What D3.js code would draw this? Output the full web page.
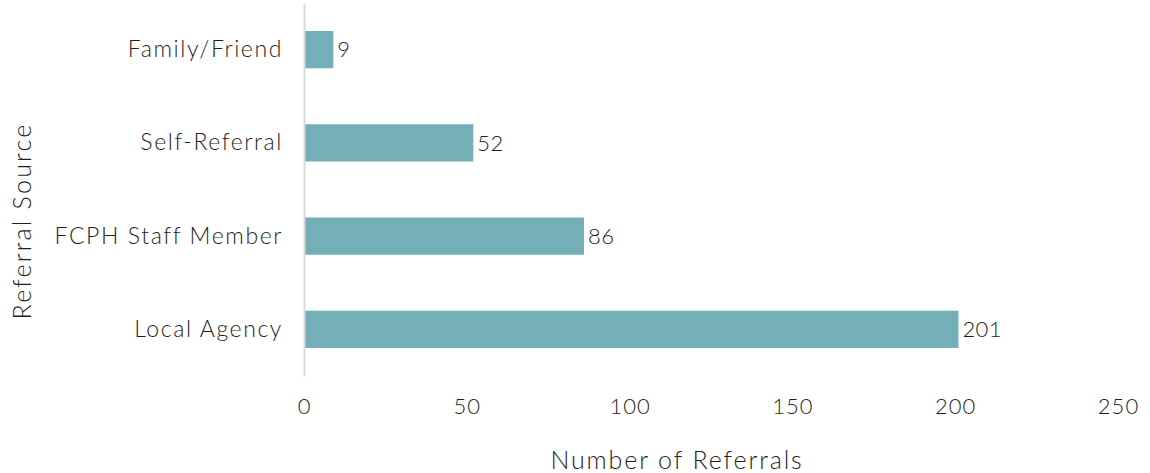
<!DOCTYPE html>
<html>
<head>
<meta charset="utf-8">
<script src="https://cdn.jsdelivr.net/npm/d3@7"></script>
<style>
  body { margin: 0; background: #fff; }
  text { font-family: "Century Gothic", "URW Gothic", "Lato", sans-serif; font-weight: 300; fill: #1f1f1f; }
</style>
</head>
<body>
<svg id="chart" width="1150" height="473"></svg>
<script>
// data
const categories = ["Family/Friend", "Self-Referral", "FCPH Staff Member", "Local Agency"];
const referrals = [9, 52, 86, 201];
const xTicks = [0, 50, 100, 150, 200, 250];

const svg = d3.select("#chart");
const margin = { top: 3, right: 32, bottom: 97, left: 304 };
const width = 1150 - margin.left - margin.right;
const height = 473 - margin.top - margin.bottom;

const chart = svg.append("g")
  .attr("transform", `translate(${margin.left},${margin.top})`);

const x = d3.scaleLinear().domain([0, 250]).range([0, width]);
const y = d3.scaleBand().domain(categories).range([0, height]).paddingInner(0.6).paddingOuter(0.3);

// bars
chart.selectAll("rect")
  .data(categories)
  .join("rect")
  .attr("x", 0)
  .attr("y", d => y(d))
  .attr("width", (d, i) => x(referrals[i]))
  .attr("height", y.bandwidth())
  .attr("fill", "#74afb7");

// value labels
chart.selectAll(".val")
  .data(categories)
  .join("text")
  .attr("class", "val")
  .attr("x", (d, i) => x(referrals[i]) + 4)
  .attr("y", d => y(d) + y.bandwidth() / 2)
  .attr("dy", "0.35em")
  .style("font-size", "22px")
  .style("letter-spacing", "0.4px")
  .text((d, i) => referrals[i]);

// y axis (category labels + line)
const yAxis = chart.append("g").call(d3.axisLeft(y).tickSize(0).tickPadding(21));
yAxis.select(".domain").attr("stroke", "#d9d9d9").attr("stroke-width", 2);
yAxis.selectAll("text")
  .style("font-size", "23px")
  .style("letter-spacing", "1.6px")
  .attr("fill", null);

// x axis (labels only)
const xAxis = chart.append("g")
  .attr("transform", `translate(0,${height})`)
  .call(d3.axisBottom(x).tickValues(xTicks).tickSize(0).tickPadding(22));
xAxis.select(".domain").remove();
xAxis.selectAll("text")
  .style("font-size", "22px")
  .style("letter-spacing", "1px")
  .attr("fill", null);

// axis titles
svg.append("text")
  .attr("x", 677)
  .attr("y", 469)
  .attr("text-anchor", "middle")
  .style("font-size", "25px")
  .style("letter-spacing", "1.9px")
  .text("Number of Referrals");

svg.append("text")
  .attr("transform", `translate(31,221) rotate(-90)`)
  .attr("text-anchor", "middle")
  .style("font-size", "25px")
  .style("letter-spacing", "2.2px")
  .text("Referral Source");
</script>
</body>
</html>
